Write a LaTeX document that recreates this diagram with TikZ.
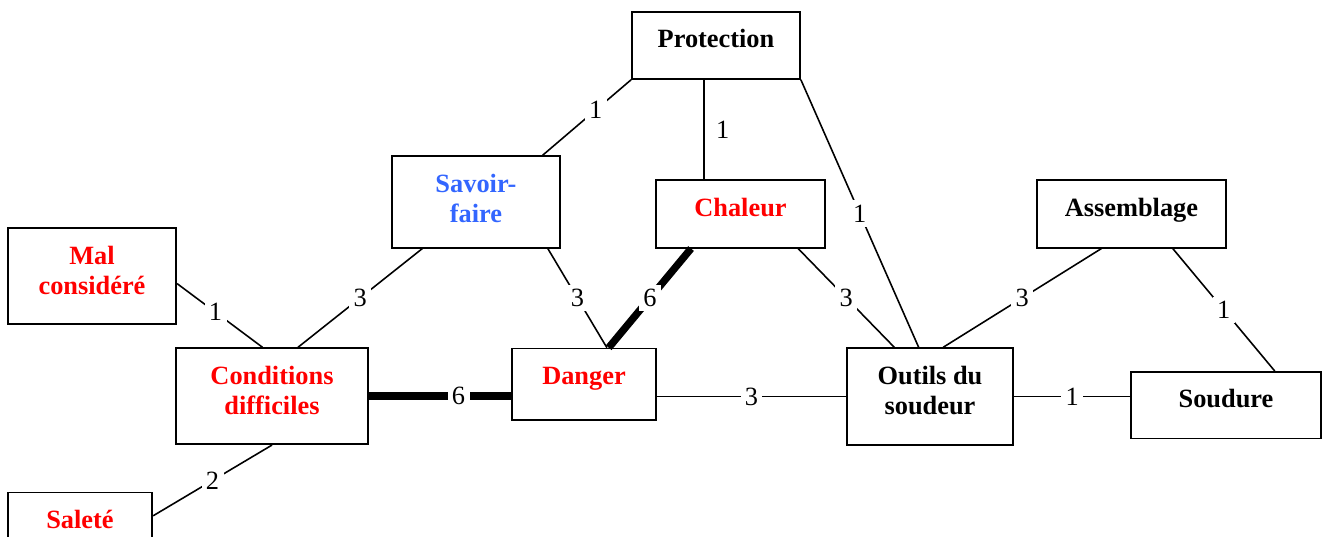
\documentclass[tikz,border=0pt]{standalone}
\usepackage{fontspec}
\setmainfont{Liberation Serif}
\usetikzlibrary{positioning}
\definecolor{tRed}{RGB}{255,0,0}
\definecolor{tBlue}{RGB}{51,102,255}

\begin{document}
\begin{tikzpicture}[font=\fontsize{15}{17.4}\selectfont,
    BOX/.style={draw, line width=1pt, anchor=north, inner xsep=0pt, inner ysep=0pt, text height=0.72cm, align=center, font=\fontsize{15}{17.4}\selectfont\bfseries},
    TWO/.style={BOX, text height=1.332cm},
    LNK/.style={line width=0.9pt}, HVY/.style={line width=4.2pt},
    NUM/.style={fill=white, inner sep=2.5pt}]
    \useasboundingbox (0,0) rectangle (26.6,-10.74);
    % boxes
    \node[BOX, minimum width=3.36cm, text depth=0.62cm] (prot) at (14.32,-0.22) {Protection};
    \node[TWO, minimum width=3.36cm, text depth=0.498cm, text=tBlue] (savoir) at (9.52,-3.106) {Savoir-\\faire};
    \node[BOX, minimum width=3.38cm, text depth=0.63cm, text=tRed] (chaleur) at (14.81,-3.586) {Chaleur};
    \node[BOX, minimum width=2.88cm, text depth=0.71cm, text=tRed] (danger) at (11.68,-6.954) {Danger};
    \node[TWO, minimum width=3.37cm, text depth=0.588cm, text=tRed] (mal) at (1.84,-4.546) {Mal\\considéré};
    \node[TWO, minimum width=3.85cm, text depth=0.588cm, text=tRed] (cond) at (5.44,-6.946) {Conditions\\difficiles};
    \node[BOX, minimum width=2.89cm, text depth=0.62cm, text=tRed] (salete) at (1.60,-9.834) {Saleté};
    \node[TWO, minimum width=3.32cm, text depth=0.598cm] (outils) at (18.60,-6.946) {Outils du\\soudeur};
    \node[BOX, minimum width=3.79cm, text depth=0.63cm] (assembl) at (22.63,-3.586) {Assemblage};
    \node[BOX, minimum width=3.79cm, text depth=0.61cm] (soudure) at (24.52,-7.42) {Soudure};
    % links
    \draw[LNK] (mal.-5) -- node[NUM, pos=0.45] {1} (cond.101);
    \draw[LNK] (cond.62) -- node[NUM] {3} (savoir.221);
    \draw[LNK] (cond.south) -- node[NUM] {2} (salete.8);
    \draw[HVY] (cond.east) -- node[NUM, pos=0.63] {6} (cond.east -| danger.west);
    \draw[LNK] (savoir.35) -- node[NUM, pos=0.6] {1} (prot.south west);
    \draw[LNK] (savoir.-33) -- node[NUM] {3} (danger.58);
    \coordinate (pc) at ([xshift=-0.24cm]prot.south);
    \draw[LNK] (pc) -- (pc |- chaleur.north) node[midway, right=0.14cm, inner sep=2.5pt] {1};
    \draw[HVY] (chaleur.215) -- node[NUM] {6} (danger.56);
    \draw[LNK] (chaleur.-31) -- node[NUM] {3} (outils.126);
    \draw[LNK] (prot.south east) -- node[NUM] {1} (outils.103);
    \draw[LNK] (danger.east |- outils.west) -- node[NUM] {3} (outils.west);
    \draw[LNK] (outils.75) -- node[NUM] {3} (assembl.229);
    \draw[LNK] (assembl.-40.5) -- node[NUM] {1} (soudure.35);
    \draw[LNK] (outils.east) -- node[NUM] {1} (outils.east -| soudure.west);
\end{tikzpicture}
\end{document}
